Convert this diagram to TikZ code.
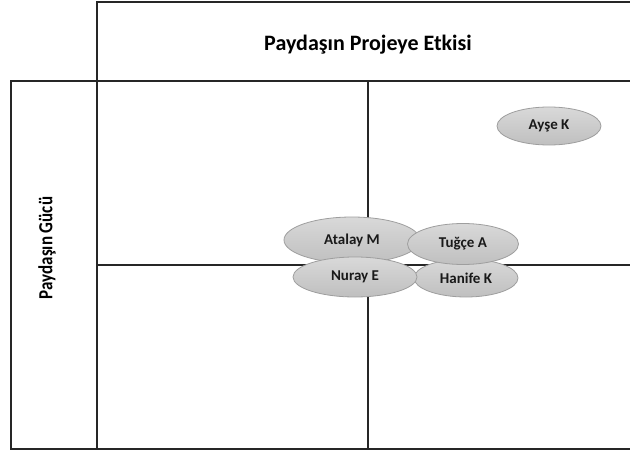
\documentclass[tikz,border=0pt]{standalone}
\usepackage{fontspec}
\setmainfont{Carlito}
\usetikzlibrary{shapes.geometric}
\tikzset{
  gridline/.style={line width=1.4pt, draw=black!85, line cap=rect},
  person/.style={ellipse, draw=black!38, line width=0.8pt, top color=black!15, bottom color=black!25, inner sep=0pt, font=\fontsize{15}{17}\selectfont\bfseries, text=black!90},
}
\begin{document}
\begin{tikzpicture}[x=1pt,y=-1pt]
\useasboundingbox (0,0) rectangle (630,452);
% frame
\coordinate (tl) at (97,2);
\coordinate (tr) at (630,2);
\coordinate (ml) at (11,81);
\coordinate (mr) at (630,81);
\coordinate (bl) at (11,449);
\coordinate (br) at (630,449);
\coordinate (vb) at (97,449);
\coordinate (cm) at (368,81);
\coordinate (cb) at (368,449);
\coordinate (hl) at (97,265);
\coordinate (hr) at (630,265);
\draw[gridline] (tr) -- (tl) -- (vb);
\draw[gridline] (ml) -- (mr);
\draw[gridline] (ml) -- (bl) -- (br);
\draw[gridline] (cm) -- (cb);
\draw[gridline] (hl) -- (hr);
% headings
\node[font=\fontsize{22}{24}\selectfont\bfseries] (title) at (368,45) {Paydaşın Projeye Etkisi};
\node[font=\fontsize{20}{22}\selectfont\bfseries, rotate=90, xscale=0.85] (side) at (47,248) {Paydaşın Gücü};
% stakeholders
\node[person, minimum width=104pt, minimum height=38pt] (hanife) at (466,278) {Hanife K};
\node[person, minimum width=136pt, minimum height=46pt] (atalay) at (352,240) {Atalay M};
\node[person, minimum width=111pt, minimum height=41pt] (tugce) at (463,244) {Tuğçe A};
\node[person, minimum width=124pt, minimum height=40pt] (nuray) at (355,277) {Nuray E};
\node[person, minimum width=104pt, minimum height=38pt] (ayse) at (549,126) {Ayşe K};
\end{tikzpicture}
\end{document}
